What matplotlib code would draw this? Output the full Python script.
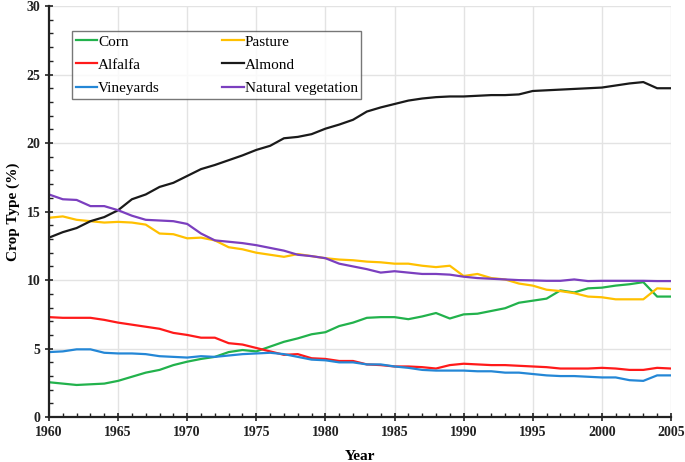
import matplotlib
matplotlib.use('Agg')
import matplotlib.pyplot as plt
from matplotlib.ticker import MultipleLocator

plt.rcParams['font.family'] = ['Liberation Serif', 'DejaVu Serif']

years = list(range(1960, 2006))

corn = [2.55, 2.45, 2.35, 2.4, 2.45, 2.65, 2.95, 3.25, 3.45, 3.8,
        4.05, 4.25, 4.4, 4.75, 4.9, 4.8, 5.15, 5.5, 5.75, 6.05,
        6.2, 6.65, 6.9, 7.25, 7.3, 7.3, 7.15, 7.35, 7.6, 7.2,
        7.5, 7.55, 7.75, 7.95, 8.35, 8.5, 8.65, 9.25, 9.1, 9.4,
        9.45, 9.6, 9.7, 9.85, 8.8, 8.8]
pasture = [14.55, 14.65, 14.4, 14.3, 14.2, 14.25, 14.2, 14.05, 13.4, 13.35,
           13.05, 13.1, 12.9, 12.4, 12.25, 12.0, 11.85, 11.7, 11.9, 11.75,
           11.6, 11.5, 11.45, 11.35, 11.3, 11.2, 11.2, 11.05, 10.95, 11.05,
           10.3, 10.45, 10.15, 10.05, 9.75, 9.6, 9.3, 9.2, 9.05, 8.8,
           8.75, 8.6, 8.6, 8.6, 9.4, 9.35]
alfalfa = [7.3, 7.25, 7.25, 7.25, 7.1, 6.9, 6.75, 6.6, 6.45, 6.15,
           6.0, 5.8, 5.8, 5.4, 5.3, 5.05, 4.8, 4.55, 4.6, 4.3,
           4.25, 4.1, 4.1, 3.85, 3.8, 3.7, 3.7, 3.65, 3.55, 3.8,
           3.9, 3.85, 3.8, 3.8, 3.75, 3.7, 3.65, 3.55, 3.55, 3.55,
           3.6, 3.55, 3.45, 3.45, 3.6, 3.55]
almond = [13.1, 13.5, 13.8, 14.3, 14.6, 15.1, 15.9, 16.25, 16.8, 17.1,
          17.6, 18.1, 18.4, 18.75, 19.1, 19.5, 19.8, 20.35, 20.45, 20.65,
          21.05, 21.35, 21.7, 22.3, 22.6, 22.85, 23.1, 23.25, 23.35, 23.4,
          23.4, 23.45, 23.5, 23.5, 23.55, 23.8, 23.85, 23.9, 23.95, 24.0,
          24.05, 24.2, 24.35, 24.45, 24.0, 24.0]
vineyards = [4.75, 4.8, 4.95, 4.95, 4.7, 4.65, 4.65, 4.6, 4.45, 4.4,
             4.35, 4.45, 4.4, 4.5, 4.6, 4.65, 4.7, 4.6, 4.4, 4.2,
             4.15, 4.0, 4.0, 3.85, 3.85, 3.7, 3.6, 3.45, 3.4, 3.4,
             3.4, 3.35, 3.35, 3.25, 3.25, 3.15, 3.05, 3.0, 3.0, 2.95,
             2.9, 2.9, 2.7, 2.65, 3.05, 3.05]
natural = [16.25, 15.9, 15.85, 15.4, 15.4, 15.1, 14.7, 14.4, 14.35, 14.3,
           14.1, 13.4, 12.9, 12.8, 12.7, 12.55, 12.35, 12.15, 11.85, 11.75,
           11.6, 11.2, 11.0, 10.8, 10.55, 10.65, 10.55, 10.45, 10.45, 10.4,
           10.25, 10.15, 10.1, 10.05, 10.0, 9.98, 9.95, 9.95, 10.05, 9.93,
           9.95, 9.95, 9.95, 9.95, 9.93, 9.93]

fig = plt.figure(figsize=(6.85, 4.62), dpi=100)
ax = fig.add_axes([0.0715, 0.097, 0.908, 0.89])

lw = 1.6
ax.plot(years, corn, color='#22b24c', lw=lw, label='Corn')
ax.plot(years, alfalfa, color='#ff1a1a', lw=lw, label='Alfalfa')
ax.plot(years, vineyards, color='#2487d6', lw=lw, label='Vineyards')
ax.plot(years, pasture, color='#ffc000', lw=lw, label='Pasture')
ax.plot(years, almond, color='#1a1a1a', lw=lw, label='Almond')
ax.plot(years, natural, color='#7b3fbf', lw=lw, label='Natural vegetation')

ax.set_xlim(1960, 2005)
ax.set_ylim(0, 30)
ax.xaxis.set_major_locator(MultipleLocator(5))
ax.xaxis.set_minor_locator(MultipleLocator(1))
ax.yaxis.set_major_locator(MultipleLocator(5))
ax.yaxis.set_minor_locator(MultipleLocator(1))

ax.grid(True, which='major', color='#e3e3e3', lw=1.0, zorder=0)
ax.set_axisbelow(True)
for s in ['top', 'right']:
    ax.spines[s].set_visible(False)
for s in ['left', 'bottom']:
    ax.spines[s].set_linewidth(1.6)
    ax.spines[s].set_color('#222222')

ax.tick_params(which='major', direction='inout', length=6, width=1.2, colors='#222222', pad=3)
ax.tick_params(which='minor', direction='in', length=3, width=1.0, colors='#222222')
for lab in ax.get_xticklabels() + ax.get_yticklabels():
    lab.set_fontweight('bold')
    lab.set_fontsize(10)
    lab.set_color('#222222')

ax.set_xlabel('Year', fontsize=11, fontweight='bold', labelpad=8)
ax.set_ylabel('Crop Type (%)', fontsize=11, fontweight='bold', labelpad=5)

leg = ax.legend(ncol=2, loc='upper left', bbox_to_anchor=(0.037, 0.939),
                fontsize=11, frameon=True, fancybox=False, edgecolor='#555555',
                handlelength=1.4, handletextpad=0.05, columnspacing=4.1,
                labelspacing=0.62, borderpad=0.25, borderaxespad=0)
leg.get_frame().set_linewidth(1.0)

fig.savefig('out.png', dpi=100)
